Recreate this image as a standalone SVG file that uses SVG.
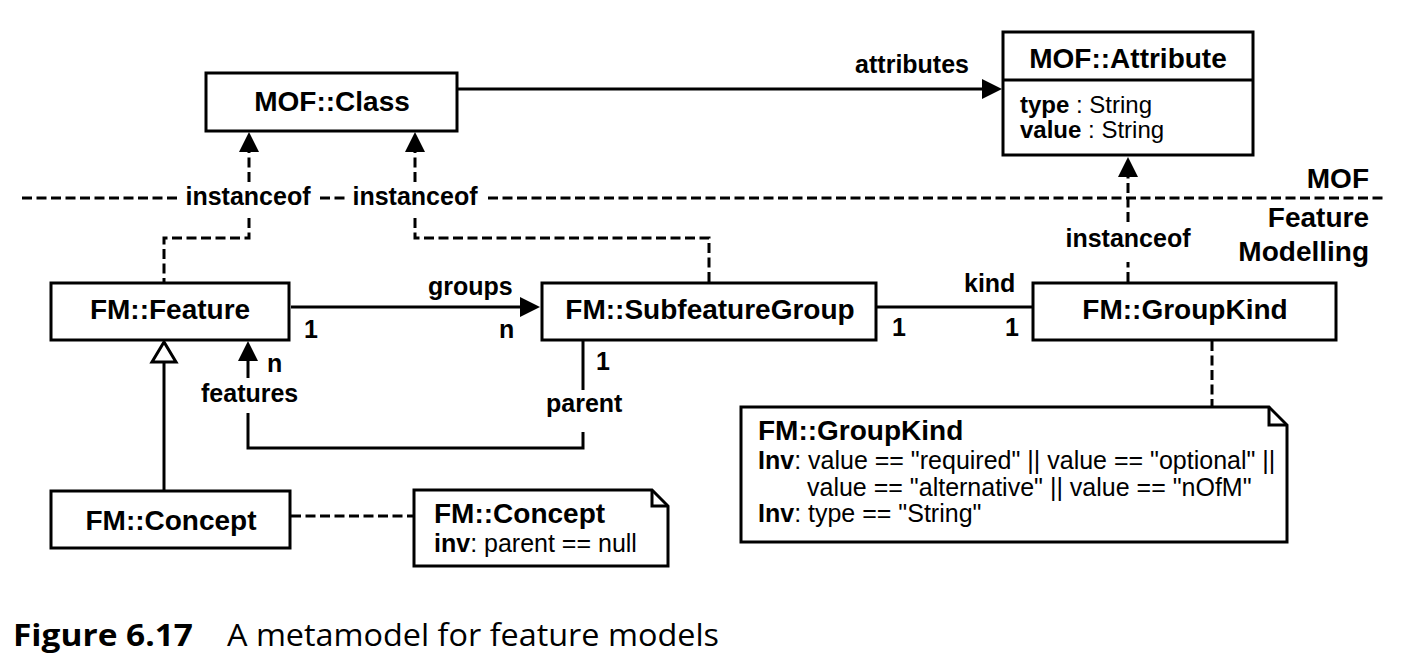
<svg xmlns="http://www.w3.org/2000/svg" width="1404" height="668" viewBox="0 0 1404 668">
<style>
.box{fill:#fff;stroke:#000;stroke-width:3}
.ln{fill:none;stroke:#000;stroke-width:3}
.dash{fill:none;stroke:#000;stroke-width:3;stroke-dasharray:10 4.5}
.tt{font-family:"Liberation Sans",Arial,Helvetica,sans-serif;font-weight:bold;font-size:28px;fill:#000}
.c{text-anchor:middle}
.e{text-anchor:end}
.lb{font-family:"Liberation Sans",Arial,Helvetica,sans-serif;font-weight:bold;font-size:25px;fill:#000}
.nt{font-family:"Liberation Sans",Arial,Helvetica,sans-serif;font-size:25px;fill:#000}
.at{font-family:"Liberation Sans",Arial,Helvetica,sans-serif;font-size:24px;fill:#000}
.b{font-weight:bold}
.cap{font-family:"Open Sans","Noto Sans",sans-serif;font-size:31px;fill:#000}
</style>
<defs>
<marker id="arr" markerUnits="userSpaceOnUse" markerWidth="20" markerHeight="20" refX="0" refY="10" orient="auto" overflow="visible">
<path d="M0,0 L20,10 L0,20 Z" fill="#000" stroke="none"/>
</marker>
</defs>
<rect width="1404" height="668" fill="#fff"/>

<g id="connectors">
<path class="ln" d="M458,89 H982" marker-end="url(#arr)"/>
<path class="dash" d="M249,182 V152" marker-end="url(#arr)"/>
<path class="dash" d="M249,218 V238 H164 V282"/>
<path class="dash" d="M415,182 V152" marker-end="url(#arr)"/>
<path class="dash" d="M415,218 V238 H709 V282"/>
<path class="dash" d="M22,198 H178 M320,198 H347 M488,198 H1383"/>
<path class="dash" d="M1128,282 V262"/>
<path class="dash" d="M1128,222 V177" marker-end="url(#arr)"/>
<path class="ln" d="M291,307 H520" marker-end="url(#arr)"/>
<path class="ln" d="M877,307 H1033"/>
<path class="ln" d="M164,490 V362"/>
<polygon points="164,342 152,362 176,362" fill="#fff" stroke="#000" stroke-width="3" stroke-linejoin="miter"/>
<path class="ln" d="M583,341 V390 M583,432 V448 H248 V413"/>
<path class="ln" d="M248,378 V361" marker-end="url(#arr)"/>
<path class="dash" d="M291,516 H414"/>
<path class="dash" d="M1212,341 V407"/>
<text class="lb" x="248" y="205" text-anchor="middle">instanceof</text>
<text class="lb" x="415" y="205" text-anchor="middle">instanceof</text>
<text class="lb" x="1128" y="247" text-anchor="middle">instanceof</text>
<text class="lb" x="969" y="73" text-anchor="end">attributes</text>
<text class="lb" x="428" y="295">groups</text>
<text class="lb" x="964" y="292">kind</text>
<text class="lb" x="304" y="338">1</text>
<text class="lb" x="499" y="338">n</text>
<text class="lb" x="892" y="336">1</text>
<text class="lb" x="1005" y="336">1</text>
<text class="lb" x="267" y="372">n</text>
<text class="lb" x="596" y="370">1</text>
<text class="lb" x="201" y="402">features</text>
<text class="lb" x="546" y="412">parent</text>
</g>

<g id="layers">
<text class="tt e" x="1369" y="188">MOF</text>
<text class="tt e" x="1369" y="227">Feature</text>
<text class="tt e" x="1369" y="261">Modelling</text>
</g>

<g id="mof-class">
<rect class="box" x="206" y="73" width="251" height="58"/>
<text class="tt c" x="332" y="111">MOF::Class</text>
</g>

<g id="mof-attribute">
<rect class="box" x="1003" y="32" width="250" height="123"/>
<line class="ln" x1="1003" y1="80" x2="1253" y2="80"/>
<text class="tt c" x="1128" y="68">MOF::Attribute</text>
<text class="at" x="1020" y="113"><tspan class="b">type</tspan> : String</text>
<text class="at" x="1020" y="138"><tspan class="b">value</tspan> : String</text>
</g>

<g id="fm-feature">
<rect class="box" x="51" y="283" width="238" height="57"/>
<text class="tt c" x="170" y="319">FM::Feature</text>
</g>

<g id="fm-subfeaturegroup">
<rect class="box" x="542" y="283" width="334" height="57"/>
<text class="tt c" x="710" y="319">FM::SubfeatureGroup</text>
</g>

<g id="fm-groupkind">
<rect class="box" x="1033" y="283" width="303" height="57"/>
<text class="tt c" x="1185" y="319">FM::GroupKind</text>
</g>

<g id="fm-concept">
<rect class="box" x="51" y="491" width="239" height="57"/>
<text class="tt c" x="171" y="530">FM::Concept</text>
</g>

<g id="note-concept">
<path class="box" d="M414,490 H652 L668,506 V566 H414 Z"/>
<path class="ln" d="M652,490 V506 H668"/>
<text class="tt" x="434" y="523">FM::Concept</text>
<text class="nt" x="434" y="552"><tspan class="b">inv</tspan>: parent == null</text>
</g>

<g id="note-groupkind">
<path class="box" d="M741,407 H1269 L1287,425 V542 H741 Z"/>
<path class="ln" d="M1269,407 V425 H1287"/>
<text class="tt" x="758" y="440">FM::GroupKind</text>
<text class="nt" x="758" y="469"><tspan class="b">Inv</tspan>: value == "required" || value == "optional" ||</text>
<text class="nt" x="807" y="496">value == "alternative" || value == "nOfM"</text>
<text class="nt" x="758" y="522"><tspan class="b">Inv</tspan>: type == "String"</text>
</g>

<g id="caption">
<text class="cap" x="13" y="646" font-weight="bold" textLength="180" lengthAdjust="spacingAndGlyphs">Figure 6.17</text>
<text class="cap" x="227" y="646" textLength="492" lengthAdjust="spacingAndGlyphs">A metamodel for feature models</text>
</g>
</svg>
